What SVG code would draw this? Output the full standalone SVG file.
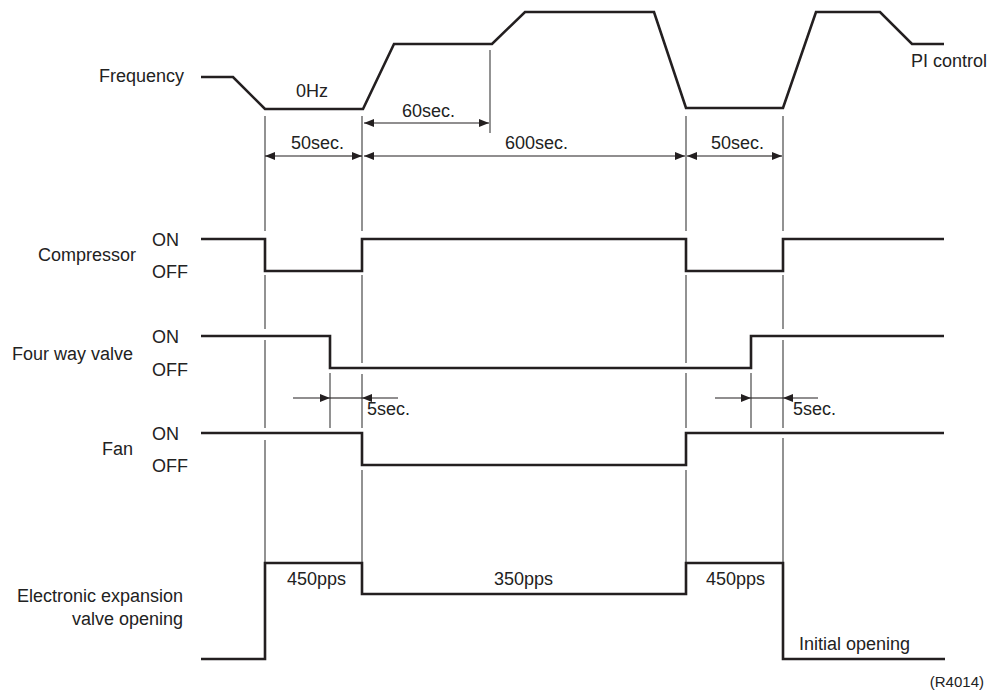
<svg xmlns="http://www.w3.org/2000/svg" width="999" height="691" viewBox="0 0 999 691">
<defs>
<marker id="ah" viewBox="0 0 10 8" refX="10" refY="4" markerWidth="10" markerHeight="8" markerUnits="userSpaceOnUse" orient="auto">
<path d="M0,0 L10,4 L0,8 Z" fill="#231f20"/>
</marker>
<style>
.wave{fill:none;stroke:#231f20;stroke-width:2.6;stroke-linejoin:miter}
.guide{fill:none;stroke:#3a3a3a;stroke-width:1.1}
.dim{fill:none;stroke:#231f20;stroke-width:1.1}
.arr{fill:none;stroke:#231f20;stroke-width:1.1;marker-end:url(#ah)}
text{font-family:"Liberation Sans",Arial,Helvetica,sans-serif;font-size:18px;fill:#222}
.r{text-anchor:end}
.small{font-size:15px}
</style>
</defs>
<rect width="999" height="691" fill="#fff"/>

<g id="guides">
<path class="guide" d="M265,116V231 M265,275V329 M265,340V428 M265,440V562"/>
<path class="guide" d="M362,116V231 M362,275V363 M362,374V428 M362,470V562"/>
<path class="guide" d="M686,116V231 M686,275V363 M686,373V428 M686,470V562"/>
<path class="guide" d="M783,116V231 M783,275V329 M783,340V428 M783,438V562"/>
<path class="guide" d="M330,373V428 M751,373V428"/>
<path class="guide" d="M490,50V133"/>
</g>

<g id="connectors">
<path class="arr" d="M300,156H265"/>
<path class="arr" d="M330,156H362"/>
<path class="arr" d="M400,156H364"/>
<path class="arr" d="M650,156H685"/>
<path class="arr" d="M720,156H687"/>
<path class="arr" d="M750,156H782"/>
<line class="dim" x1="300" y1="156" x2="330" y2="156"/>
<line class="dim" x1="400" y1="156" x2="650" y2="156"/>
<line class="dim" x1="720" y1="156" x2="750" y2="156"/>
<path class="arr" d="M420,123H364"/>
<path class="arr" d="M440,123H489"/>
<line class="dim" x1="420" y1="123" x2="440" y2="123"/>
<path class="arr" d="M293,398H330"/>
<path class="arr" d="M398,398H362"/>
<line class="dim" x1="330" y1="398" x2="362" y2="398"/>
<path class="arr" d="M715,398H751"/>
<path class="arr" d="M818,398H783"/>
<line class="dim" x1="751" y1="398" x2="783" y2="398"/>
</g>

<g id="frequency">
<path class="wave" d="M201,77H233L265,109H363L394,44H492L525,12H654L686,108H783L816,12H880L912,44H944"/>
<text class="r" x="184" y="82">Frequency</text>
<text x="296" y="97">0Hz</text>
<text x="402" y="117">60sec.</text>
<text x="291" y="149">50sec.</text>
<text x="505" y="149">600sec.</text>
<text x="711" y="149">50sec.</text>
<text x="911" y="67">PI control</text>
</g>

<g id="compressor">
<path class="wave" d="M201,239H265V271H362V239H686V271H783V239H944"/>
<text class="r" x="136" y="261">Compressor</text>
<text x="152" y="246">ON</text>
<text x="152" y="278">OFF</text>
</g>

<g id="four-way-valve">
<path class="wave" d="M201,336H330V368H751V336H944"/>
<text class="r" x="133" y="360">Four way valve</text>
<text x="152" y="343">ON</text>
<text x="152" y="376">OFF</text>
<text x="367" y="415">5sec.</text>
<text x="793" y="415">5sec.</text>
</g>

<g id="fan">
<path class="wave" d="M201,433H362V465H686V433H944"/>
<text class="r" x="133" y="455">Fan</text>
<text x="152" y="440">ON</text>
<text x="152" y="472">OFF</text>
</g>

<g id="eev">
<path class="wave" d="M201,659H265V563H362V594H686V563H783V659H945"/>
<text class="r" x="183" y="602">Electronic expansion</text>
<text class="r" x="183" y="625">valve opening</text>
<text x="287" y="585">450pps</text>
<text x="494" y="585">350pps</text>
<text x="706" y="585">450pps</text>
<text x="799" y="650">Initial opening</text>
</g>

<text class="small r" x="984" y="687">(R4014)</text>
</svg>
